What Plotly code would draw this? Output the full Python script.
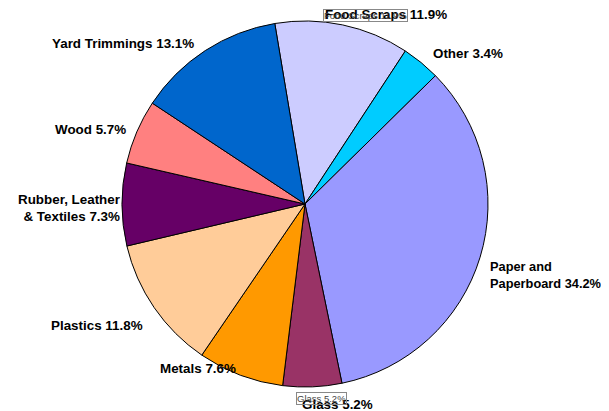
import plotly.graph_objects as go

categories = ["Food Scraps", "Other", "Paper and Paperboard", "Glass", "Metals",
              "Plastics", "Rubber, Leather & Textiles", "Wood", "Yard Trimmings"]
values = [11.9, 3.4, 34.2, 5.2, 7.6, 11.8, 7.3, 5.7, 13.1]
display_names = ["Food Scraps", "Other", "Paper and<br>Paperboard", "Glass", "Metals",
                 "Plastics", "Rubber, Leather<br>& Textiles", "Wood", "Yard Trimmings"]
colors = ["#CCCCFF", "#00CCFF", "#9999FF", "#993366", "#FF9900",
          "#FFCC99", "#660066", "#FF8080", "#0066CC"]

OFF = 8  # page body margin
W, H = 609 - OFF, 411 - OFF
# label placement in window pixels: (x, y, xanchor, align, font size)
label_pos = [(323, 14, "left", "left", 13.4), (431, 54, "left", "left", 13.4),
             (488, 275, "left", "left", 12.8), (300, 404, "left", "left", 13.4),
             (238, 368, "right", "right", 13.4), (145, 325, "right", "right", 13.4),
             (123, 208, "right", "right", 13.4), (128, 130, "right", "right", 13.4),
             (196, 43, "right", "right", 13.4)]


def px2paper(px, py):
    return (px - OFF) / W, 1 - (py - OFF) / H


cx, cy, r = 305, 204, 183
x0, y1 = px2paper(cx - r, cy - r)
x1, y0 = px2paper(cx + r, cy + r)
fig = go.Figure(go.Pie(
    labels=categories, values=values, sort=False, direction="clockwise",
    rotation=-9.5, textinfo="none", hoverinfo="label+percent",
    marker=dict(colors=colors, line=dict(color="black", width=1)),
    domain=dict(x=[x0, x1], y=[y0, y1]),
    showlegend=False,
))

font_family = "Arial, Liberation Sans, sans-serif"
annotations = []
for name, v, (px, py, xa, al, fs) in zip(display_names, values, label_pos):
    ax, ay = px2paper(px, py)
    annotations.append(dict(
        x=ax, y=ay, xref="paper", yref="paper", xanchor=xa, yanchor="middle",
        align=al, showarrow=False, text=f"<b>{name} {v}%</b>",
        font=dict(family=font_family, size=fs, color="black"),
    ))

# small boxed duplicate labels seen in the reference
small = [(0, 323, 15), (3, 296, 398)]
for idx, px, py in small:
    ax, ay = px2paper(px, py)
    annotations.append(dict(
        x=ax, y=ay, xref="paper", yref="paper", xanchor="left", yanchor="middle",
        showarrow=False, text=f"{categories[idx]} {values[idx]}%",
        font=dict(family=font_family, size=9.5, color="#444444"),
        bordercolor="#888888", borderwidth=1, borderpad=0, bgcolor="rgba(255,255,255,0)",
    ))

fig.update_layout(width=W, height=H, margin=dict(l=0, r=0, t=0, b=0),
                  paper_bgcolor="white", plot_bgcolor="white", annotations=annotations)
fig.write_html("out.html")
